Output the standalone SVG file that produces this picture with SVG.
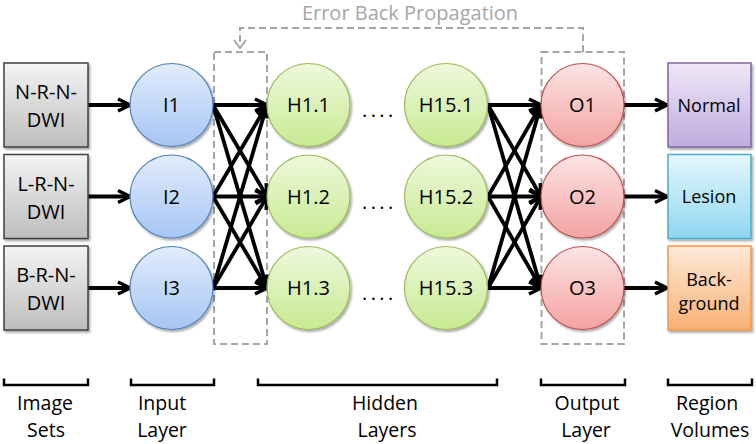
<svg xmlns="http://www.w3.org/2000/svg" width="756" height="444" viewBox="0 0 756 444">
<defs>
<linearGradient id="gGrey" x1="0" y1="0" x2="0" y2="1"><stop offset="0" stop-color="#f4f4f4"/><stop offset="1" stop-color="#bdbdbd"/></linearGradient>
<linearGradient id="gBlue" x1="0" y1="0" x2="0" y2="1"><stop offset="0" stop-color="#e2ecfc"/><stop offset="1" stop-color="#a6c6f4"/></linearGradient>
<linearGradient id="gGreen" x1="0" y1="0" x2="0" y2="1"><stop offset="0" stop-color="#eef8dc"/><stop offset="1" stop-color="#c8ea92"/></linearGradient>
<linearGradient id="gRed" x1="0" y1="0" x2="0" y2="1"><stop offset="0" stop-color="#fde4e4"/><stop offset="1" stop-color="#f4a3a3"/></linearGradient>
<linearGradient id="gPurple" x1="0" y1="0" x2="0" y2="1"><stop offset="0" stop-color="#eee8f6"/><stop offset="1" stop-color="#c0abe0"/></linearGradient>
<linearGradient id="gCyan" x1="0" y1="0" x2="0" y2="1"><stop offset="0" stop-color="#e6f7fd"/><stop offset="1" stop-color="#8ed6f0"/></linearGradient>
<linearGradient id="gOrange" x1="0" y1="0" x2="0" y2="1"><stop offset="0" stop-color="#fee9d8"/><stop offset="1" stop-color="#f8b176"/></linearGradient>
<filter id="sh" x="-10%" y="-10%" width="130%" height="130%"><feDropShadow dx="1.5" dy="2" stdDeviation="1.2" flood-color="#000" flood-opacity="0.35"/></filter>
<marker id="arr" viewBox="0 0 16 16" markerWidth="16" markerHeight="16" refX="14" refY="8" orient="auto" markerUnits="userSpaceOnUse"><path d="M2,2 L14,8 L2,14" fill="none" stroke="#000" stroke-width="3.4" stroke-linejoin="miter"/></marker>
<marker id="garr" viewBox="0 0 14 10" markerWidth="14" markerHeight="10" refX="7" refY="9" orient="0" markerUnits="userSpaceOnUse"><path d="M1,1 L7,9 L13,1" fill="none" stroke="#a6a6a6" stroke-width="2"/></marker>
</defs>
<style>
text{font-family:"Open Sans","Liberation Sans",sans-serif;fill:#000;text-anchor:middle}
.box{stroke-width:1.5;filter:url(#sh)}
.nd{stroke-width:1.2;filter:url(#sh)}
.lbl{font-size:20px}
.bt{font-size:18px}
.lt{font-size:19.5px}
.dash{fill:none;stroke:#a6a6a6;stroke-width:2;stroke-dasharray:7 4}
.c{stroke:#000;stroke-width:3.8;fill:none;marker-end:url(#arr)}
.br{fill:none;stroke:#000;stroke-width:2.5}
</style>

<g id="backprop">
<text x="410" y="20" style="font-size:20px;fill:#a6a6a6">Error Back Propagation</text>
<path class="dash" d="M583,52 V28 H240 V48" marker-end="url(#garr)"/>
<rect class="dash" x="214" y="52" width="53" height="292"/>
<rect class="dash" x="541.5" y="52" width="82.5" height="292"/>
</g>

<g id="connectors">
<line class="c" x1="88" y1="105" x2="130" y2="105"/>
<line class="c" x1="88" y1="196.5" x2="130" y2="196.5"/>
<line class="c" x1="88" y1="288" x2="130" y2="288"/>

<line class="c" x1="213" y1="105" x2="267" y2="105"/>
<line class="c" x1="213" y1="105" x2="267" y2="196.5"/>
<line class="c" x1="213" y1="105" x2="267" y2="288"/>
<line class="c" x1="213" y1="196.5" x2="267" y2="105"/>
<line class="c" x1="213" y1="196.5" x2="267" y2="196.5"/>
<line class="c" x1="213" y1="196.5" x2="267" y2="288"/>
<line class="c" x1="213" y1="288" x2="267" y2="105"/>
<line class="c" x1="213" y1="288" x2="267" y2="196.5"/>
<line class="c" x1="213" y1="288" x2="267" y2="288"/>

<line class="c" x1="488" y1="105" x2="541" y2="105"/>
<line class="c" x1="488" y1="105" x2="541" y2="196.5"/>
<line class="c" x1="488" y1="105" x2="541" y2="288"/>
<line class="c" x1="488" y1="196.5" x2="541" y2="105"/>
<line class="c" x1="488" y1="196.5" x2="541" y2="196.5"/>
<line class="c" x1="488" y1="196.5" x2="541" y2="288"/>
<line class="c" x1="488" y1="288" x2="541" y2="105"/>
<line class="c" x1="488" y1="288" x2="541" y2="196.5"/>
<line class="c" x1="488" y1="288" x2="541" y2="288"/>

<line class="c" x1="624" y1="105" x2="667" y2="105"/>
<line class="c" x1="624" y1="196.5" x2="667" y2="196.5"/>
<line class="c" x1="624" y1="288" x2="667" y2="288"/>
</g>

<g id="img1"><rect class="box" x="4" y="63" width="84" height="84" fill="url(#gGrey)" stroke="#404040"/><text class="lbl" x="46" y="99">N-R-N-</text><text class="lbl" x="46" y="127">DWI</text></g>
<g id="img2"><rect class="box" x="4" y="154.5" width="84" height="84" fill="url(#gGrey)" stroke="#404040"/><text class="lbl" x="46" y="190.5">L-R-N-</text><text class="lbl" x="46" y="218.5">DWI</text></g>
<g id="img3"><rect class="box" x="4" y="246" width="84" height="84" fill="url(#gGrey)" stroke="#404040"/><text class="lbl" x="46" y="282">B-R-N-</text><text class="lbl" x="46" y="310">DWI</text></g>

<g id="I1"><circle class="nd" cx="171.5" cy="105" r="41.5" fill="url(#gBlue)" stroke="#4f81bd"/><text class="lbl" x="171.5" y="112">I1</text></g>
<g id="I2"><circle class="nd" cx="171.5" cy="196.5" r="41.5" fill="url(#gBlue)" stroke="#4f81bd"/><text class="lbl" x="171.5" y="203.5">I2</text></g>
<g id="I3"><circle class="nd" cx="171.5" cy="288" r="41.5" fill="url(#gBlue)" stroke="#4f81bd"/><text class="lbl" x="171.5" y="295">I3</text></g>

<g id="H1_1"><circle class="nd" cx="308.5" cy="105" r="41.5" fill="url(#gGreen)" stroke="#9bbb59"/><text class="lbl" x="308.5" y="112">H1.1</text></g>
<g id="H1_2"><circle class="nd" cx="308.5" cy="196.5" r="41.5" fill="url(#gGreen)" stroke="#9bbb59"/><text class="lbl" x="308.5" y="203.5">H1.2</text></g>
<g id="H1_3"><circle class="nd" cx="308.5" cy="288" r="41.5" fill="url(#gGreen)" stroke="#9bbb59"/><text class="lbl" x="308.5" y="295">H1.3</text></g>

<g id="dots">
<text class="lbl" x="362" y="117" style="text-anchor:start;letter-spacing:3.4px">....</text>
<text class="lbl" x="362" y="208.5" style="text-anchor:start;letter-spacing:3.4px">....</text>
<text class="lbl" x="362" y="300" style="text-anchor:start;letter-spacing:3.4px">....</text>
</g>

<g id="H15_1"><circle class="nd" cx="446" cy="105" r="41.5" fill="url(#gGreen)" stroke="#9bbb59"/><text class="lbl" x="446" y="112">H15.1</text></g>
<g id="H15_2"><circle class="nd" cx="446" cy="196.5" r="41.5" fill="url(#gGreen)" stroke="#9bbb59"/><text class="lbl" x="446" y="203.5">H15.2</text></g>
<g id="H15_3"><circle class="nd" cx="446" cy="288" r="41.5" fill="url(#gGreen)" stroke="#9bbb59"/><text class="lbl" x="446" y="295">H15.3</text></g>

<g id="O1"><circle class="nd" cx="582.5" cy="105" r="41.5" fill="url(#gRed)" stroke="#c0504d"/><text class="lbl" x="582.5" y="112">O1</text></g>
<g id="O2"><circle class="nd" cx="582.5" cy="196.5" r="41.5" fill="url(#gRed)" stroke="#c0504d"/><text class="lbl" x="582.5" y="203.5">O2</text></g>
<g id="O3"><circle class="nd" cx="582.5" cy="288" r="41.5" fill="url(#gRed)" stroke="#c0504d"/><text class="lbl" x="582.5" y="295">O3</text></g>

<g id="normal"><rect class="box" x="668" y="63" width="83" height="84" fill="url(#gPurple)" stroke="#8064a2"/><text class="bt" x="709" y="111.5">Normal</text></g>
<g id="lesion"><rect class="box" x="668" y="154.5" width="83" height="84" fill="url(#gCyan)" stroke="#4bacc6"/><text class="bt" x="709" y="203">Lesion</text></g>
<g id="background"><rect class="box" x="668" y="246" width="83" height="84" fill="url(#gOrange)" stroke="#f79646"/><text class="bt" x="709" y="286">Back-</text><text class="bt" x="709" y="309.5">ground</text></g>

<g id="brackets">
<path class="br" d="M4,378.5 V385 H88 V378.5"/>
<path class="br" d="M131,378.5 V385 H214 V378.5"/>
<path class="br" d="M258,378.5 V385 H497 V378.5"/>
<path class="br" d="M541,378.5 V385 H625 V378.5"/>
<path class="br" d="M668,378.5 V385 H752 V378.5"/>
</g>
<g id="layer-labels">
<text class="lt" x="45" y="410">Image</text><text class="lt" x="46" y="437">Sets</text>
<text class="lt" x="162" y="410">Input</text><text class="lt" x="162" y="437">Layer</text>
<text class="lt" x="385" y="410">Hidden</text><text class="lt" x="387" y="437">Layers</text>
<text class="lt" x="587" y="410">Output</text><text class="lt" x="586" y="437">Layer</text>
<text class="lt" x="707" y="410">Region</text><text class="lt" x="710" y="437">Volumes</text>
</g>
</svg>
